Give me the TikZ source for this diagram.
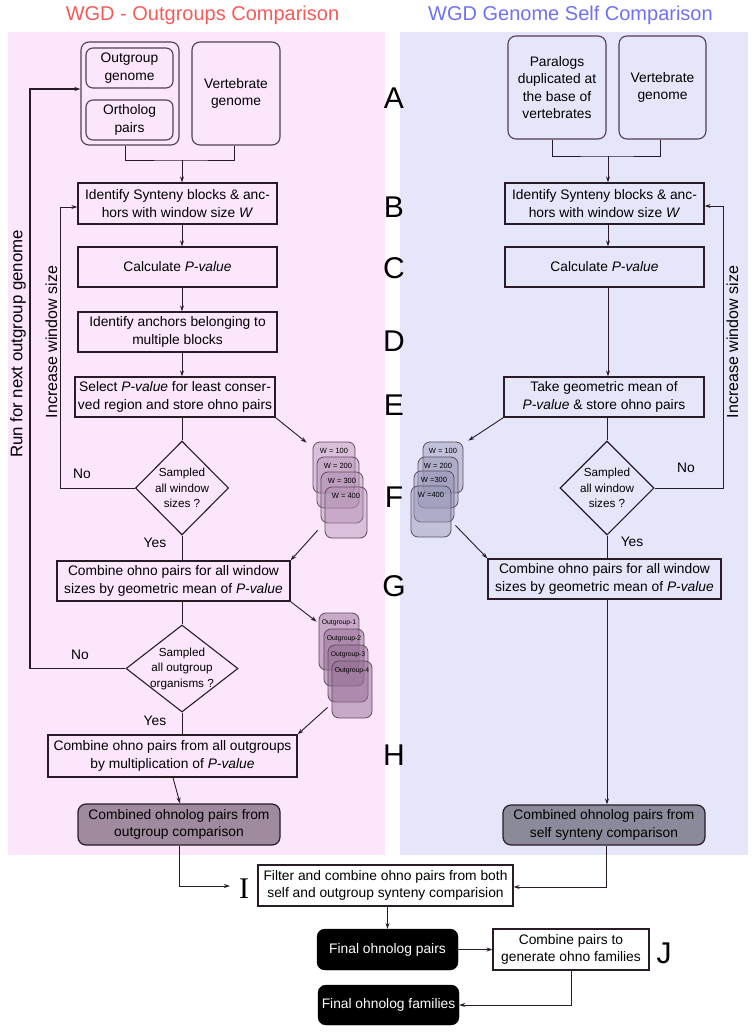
\documentclass[tikz,border=0pt]{standalone}
\usepackage{fontspec}
\setmainfont{Liberation Sans}
\newfontfamily\serifI{Liberation Serif}
\usetikzlibrary{shapes.geometric,arrows.meta,calc}
\definecolor{pinkbg}{RGB}{252,230,252}
\definecolor{bluebg}{RGB}{230,230,250}
\definecolor{titred}{RGB}{245,90,90}
\definecolor{titblue}{RGB}{112,112,245}
\definecolor{boxc}{RGB}{40,28,40}
\definecolor{topc}{RGB}{80,64,80}
\definecolor{ldark}{RGB}{160,138,158}
\definecolor{rdark}{RGB}{138,138,154}
\definecolor{cardl}{RGB}{175,140,175}
\definecolor{cardo}{RGB}{150,110,150}
\definecolor{cardr}{RGB}{150,150,182}
\definecolor{cardline}{RGB}{95,75,95}
\begin{document}
\begin{tikzpicture}[x=1pt,y=-1pt,
  box/.style={draw=boxc, line width=1.3pt, inner sep=0pt, align=center,
    font=\fontsize{13.8}{17.5}\selectfont},
  topbox/.style={draw=topc, line width=1.1pt, rounded corners=8pt, inner sep=0pt, align=center,
    font=\fontsize{13.8}{17.5}\selectfont},
  dbox/.style={draw=boxc, line width=1.2pt, rounded corners=8pt, inner sep=0pt, align=center,
    font=\fontsize{13.8}{17.5}\selectfont},
  bbox/.style={draw=black, fill=black, text=white, rounded corners=8pt, inner sep=0pt, align=center,
    font=\fontsize{13.8}{17.5}\selectfont},
  dia/.style={draw=boxc, line width=1.1pt, diamond, inner sep=0pt},
  dtext/.style={align=center, inner sep=0pt, font=\fontsize{11.7}{15.5}\selectfont},
  lbl/.style={inner sep=0pt, font=\fontsize{13.8}{16}\selectfont},
  rot/.style={rotate=90, inner sep=0pt, font=\fontsize{16}{18}\selectfont},
  letter/.style={inner sep=0pt, font=\fontsize{30}{32}\selectfont},
  card/.style={draw=cardline, line width=0.8pt, rounded corners=7pt, inner sep=0pt},
  cardtxt/.style={inner sep=0pt, font=\fontsize{7.5}{8}\selectfont},
  conn/.style={draw=boxc, line width=0.9pt},
  arr/.style={conn, -{Stealth[length=6pt,width=4pt]}},
]
\useasboundingbox (0,0) rectangle (755,1033);
% panels
\fill[pinkbg] (8,32) rectangle (385,855);
\fill[bluebg] (400,32) rectangle (748,855);
% titles
\node[inner sep=0pt, text=titred, font=\fontsize{20}{22}\selectfont] (tl) at (202.5,15) {WGD - Outgroups Comparison};
\node[inner sep=0pt, text=titblue, font=\fontsize{20}{22}\selectfont] (tr) at (570.5,15) {WGD Genome Self Comparison};
% letters
\node[letter] (LA) at (394,98) {A};
\node[letter] (LB) at (394,207) {B};
\node[letter] (LC) at (394,268) {C};
\node[letter] (LD) at (394,341) {D};
\node[letter] (LE) at (394,405) {E};
\node[letter] (LF) at (394,497) {F};
\node[letter] (LG) at (394,586) {G};
\node[letter] (LH) at (394,755) {H};
\node[letter, font=\serifI\fontsize{30}{32}\selectfont] (LI) at (244,889) {I};
\node[letter] (LJ) at (664,953) {J};

% ---------- left column ----------
\node[topbox, minimum width=98pt, minimum height=103pt] (lgrp) at (130,93.5) {};
\node[topbox, rounded corners=7pt, minimum width=87pt, minimum height=40pt] (log) at (129.5,68) {Outgroup\\genome};
\node[topbox, rounded corners=7pt, minimum width=87pt, minimum height=40pt] (lop) at (129.5,120) {Ortholog\\pairs};
\node[topbox, minimum width=88pt, minimum height=103pt] (lvg) at (236,93.5) {Vertebrate\\genome};
\node[box, minimum width=199pt, minimum height=41pt] (lB) at (177.5,203.5) {Identify Synteny blocks \& anc-\\hors with window size \textit{W}};
\node[box, minimum width=199pt, minimum height=40pt] (lC) at (177.5,267) {Calculate \textit{P-value}};
\node[box, minimum width=199pt, minimum height=40pt] (lD) at (177.5,332) {Identify anchors belonging to\\multiple blocks};
\node[box, minimum width=200pt, minimum height=40pt] (lE) at (175,397) {Select \textit{P-value} for least conser-\\ved region and store ohno pairs};
\node[dia, minimum width=93pt, minimum height=94pt] (ld1) at (182,488) {};
\node[dtext] (ld1t) at (ld1) {Sampled\\all window\\sizes ?};
\node[box, minimum width=233pt, minimum height=40pt] (lG) at (173.5,581) {Combine ohno pairs for all window\\sizes by geometric mean of \textit{P-value}};
\node[dia, minimum width=112pt, minimum height=87pt] (ld2) at (182,668.5) {};
\node[dtext] (ld2t) at (ld2) {Sampled\\all outgroup\\organisms ?};
\node[box, minimum width=249pt, minimum height=42pt] (lH) at (172.5,756) {Combine ohno pairs from all outgroups\\by multiplication of \textit{P-value}};
\node[dbox, fill=ldark, minimum width=202pt, minimum height=41pt] (lF) at (179,824.5) {Combined ohnolog pairs from\\outgroup comparison};

\node[lbl] (lno1) at (82,474) {No};
\node[lbl] (lyes1) at (155,543) {Yes};
\node[lbl] (lno2) at (80,655) {No};
\node[lbl] (lyes2) at (155,721) {Yes};
\node[rot, font=\fontsize{16.8}{18}\selectfont] (lrunt) at (18,344) {Run for next outgroup genome};
\node[rot] (lincr) at (51.5,342) {Increase window size};

% W cards left
\node[card, fill=cardl, fill opacity=0.42, minimum width=42pt, minimum height=51pt] (lw1) at (334,467.5) {};
\node[cardtxt] (lw1t) at ([yshift=-9pt]lw1.north) {W = 100};
\node[card, fill=cardl, fill opacity=0.42, minimum width=42pt, minimum height=51pt] (lw2) at (338,482.5) {};
\node[cardtxt] (lw2t) at ([yshift=-9pt]lw2.north) {W = 200};
\node[card, fill=cardl, fill opacity=0.42, minimum width=42pt, minimum height=51pt] (lw3) at (342,497.5) {};
\node[cardtxt] (lw3t) at ([yshift=-9pt]lw3.north) {W = 300};
\node[card, fill=cardl, fill opacity=0.42, minimum width=42pt, minimum height=51pt] (lw4) at (346,512.5) {};
\node[cardtxt] (lw4t) at ([yshift=-9pt]lw4.north) {W = 400};
% outgroup cards
\node[card, fill=cardo, fill opacity=0.5, minimum width=40pt, minimum height=57pt] (lo1) at (339,641.5) {};
\node[cardtxt, font=\fontsize{6.8}{7}\selectfont] (lo1t) at ([yshift=-10pt]lo1.north) {Outgroup-1};
\node[card, fill=cardo, fill opacity=0.5, minimum width=40pt, minimum height=57pt] (lo2) at (344,657.5) {};
\node[cardtxt, font=\fontsize{6.8}{7}\selectfont] (lo2t) at ([yshift=-10pt]lo2.north) {Outgroup-2};
\node[card, fill=cardo, fill opacity=0.5, minimum width=40pt, minimum height=57pt] (lo3) at (348,673.5) {};
\node[cardtxt, font=\fontsize{6.8}{7}\selectfont] (lo3t) at ([yshift=-10pt]lo3.north) {Outgroup-3};
\node[card, fill=cardo, fill opacity=0.5, minimum width=40pt, minimum height=57pt] (lo4) at (352,689.5) {};
\node[cardtxt, font=\fontsize{6.8}{7}\selectfont] (lo4t) at ([yshift=-10pt]lo4.north) {Outgroup-4};

% left connectors
\coordinate (lj) at (182,160);
\coordinate (lx) at (182,0);
\coordinate (lback) at (60,0);
\coordinate (lrun) at (30,0);
\draw[conn] ([xshift=-4.5pt]lgrp.south) |- (lj) -| ([xshift=-2pt]lvg.south);
\draw[arr] (lj) -- (lx |- lB.north);
\draw[arr] (lx |- lB.south) -- (lx |- lC.north);
\draw[arr] (lx |- lC.south) -- (lx |- lD.north);
\draw[arr] (lx |- lD.south) -- (lx |- lE.north);
\draw[conn] (lx |- lE.south) -- (ld1.north);
\draw[conn] (ld1.south) -- (lx |- lG.north);
\draw[conn] (lx |- lG.south) -- (ld2.north);
\draw[conn] (ld2.south) -- (lx |- lH.north);
\draw[arr] ([xshift=0.5pt]lH.south) -- ([xshift=1pt]lF.north);
\draw[arr] (ld1.west) -- (ld1.west -| lback) |- ([yshift=-3.5pt]lB.west);
\draw[arr, line width=1.3pt] (ld2.west) -- (ld2.west -| lrun) |- ([yshift=4.5pt]lgrp.west);
\draw[arr] (lE.south east) -- ([xshift=-6pt,yshift=-1pt]lw1.north west);
\draw[arr] ([xshift=-7pt,yshift=8pt]lw4.south west) -- (lG.north east);
\draw[arr] (lG.south east) -- ([xshift=-2pt,yshift=-9pt]lo1.north west);
\draw[arr] ([xshift=-4pt,yshift=11pt]lo4.south west) -- (lH.north east);

% ---------- right column ----------
\node[topbox, minimum width=98pt, minimum height=103pt] (rpar) at (557,87.5) {Paralogs\\duplicated at\\the base of\\vertebrates};
\node[topbox, minimum width=87pt, minimum height=103pt] (rvg) at (662.5,87.5) {Vertebrate\\genome};
\node[box, minimum width=199pt, minimum height=41pt] (rB) at (604.5,203.5) {Identify Synteny blocks \& anc-\\hors with window size \textit{W}};
\node[box, minimum width=199pt, minimum height=40pt] (rC) at (604.5,267) {Calculate \textit{P-value}};
\node[box, minimum width=200pt, minimum height=40pt] (rE) at (604,397) {Take geometric mean of\\\textit{P-value} \& store ohno pairs};
\node[dia, minimum width=94pt, minimum height=94pt] (rd) at (607,488) {};
\node[dtext] (rdt) at (rd) {Sampled\\all window\\sizes ?};
\node[box, minimum width=233pt, minimum height=40pt] (rG) at (604.5,579) {Combine ohno pairs for all window\\sizes by geometric mean of \textit{P-value}};
\node[dbox, fill=rdark, minimum width=202pt, minimum height=40pt] (rF) at (604,825) {Combined ohnolog pairs from\\self synteny comparison};
\node[lbl] (rno) at (686,468) {No};
\node[lbl] (ryes) at (632,542) {Yes};
\node[rot] (rincr) at (732.5,342) {Increase window size};

% W cards right
\node[card, fill=cardr, fill opacity=0.45, minimum width=40pt, minimum height=51pt] (rw1) at (443,467.5) {};
\node[cardtxt] (rw1t) at ([yshift=-9pt]rw1.north) {W = 100};
\node[card, fill=cardr, fill opacity=0.45, minimum width=40pt, minimum height=51pt] (rw2) at (438,482.5) {};
\node[cardtxt] (rw2t) at ([yshift=-9pt]rw2.north) {W = 200};
\node[card, fill=cardr, fill opacity=0.45, minimum width=40pt, minimum height=51pt] (rw3) at (434,496.5) {};
\node[cardtxt] (rw3t) at ([yshift=-9pt]rw3.north) {W =300};
\node[card, fill=cardr, fill opacity=0.45, minimum width=40pt, minimum height=51pt] (rw4) at (431,511.5) {};
\node[cardtxt] (rw4t) at ([yshift=-9pt]rw4.north) {W =400};

% right connectors
\coordinate (rj) at (608,156);
\coordinate (rx) at (608,0);
\coordinate (rback) at (723,0);
\draw[conn] ([xshift=-5pt]rpar.south) |- (rj) -| ([xshift=-2.5pt]rvg.south);
\draw[arr] (rj) -- (rx |- rB.north);
\draw[arr] (rx |- rB.south) -- (rx |- rC.north);
\draw[arr] (rx |- rC.south) -- (rx |- rE.north);
\draw[conn] ([xshift=-1pt]rx |- rE.south) -- (rd.north);
\draw[conn] (rd.south) -- ([xshift=-1pt]rx |- rG.north);
\draw[arr] ([xshift=-1pt]rx |- rG.south) -- ([xshift=-1pt]rx |- rF.north);
\draw[arr] (rd.east) -- (rd.east -| rback) |- ([yshift=-2.5pt]rB.east);
\draw[arr] (rE.south west) -- ([xshift=5pt,yshift=1pt]rw1.north east);
\draw[arr] ([xshift=4pt,yshift=12pt]rw4.south east) -- (rG.north west);

% ---------- bottom ----------
\node[box, fill=white, minimum width=255pt, minimum height=41pt] (bI) at (385.5,885.5) {Filter and combine ohno pairs from both\\self and outgroup synteny comparision};
\node[bbox, minimum width=141pt, minimum height=41pt] (fp) at (387.5,949.5) {Final ohnolog pairs};
\node[bbox, minimum width=141pt, minimum height=40pt] (ff) at (388.5,1005) {Final ohnolog families};
\node[box, fill=white, line width=1.1pt, minimum width=156pt, minimum height=41pt] (cp) at (571,949.5) {Combine pairs to\\generate ohno families};
\coordinate (ie) at (230,886);
\draw[arr] (lF.south) |- (ie);
\draw[arr] ([xshift=2pt]rF.south) |- ([yshift=-1.5pt]bI.east);
\draw[arr] (fp.north |- bI.south) -- (fp.north);
\draw[arr] (fp.east) -- (cp.west);
\draw[arr] (cp.south) |- (ff.east);
\end{tikzpicture}
\end{document}
